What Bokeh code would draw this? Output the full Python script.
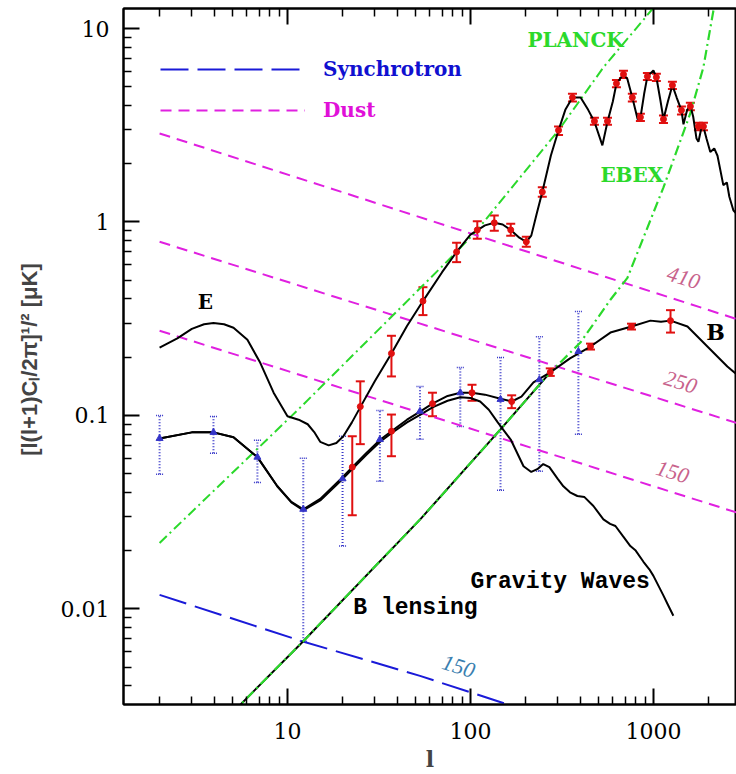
from bokeh.plotting import figure
from bokeh.models import (Whisker, TeeHead, Label, Legend, LegendItem, ColumnDataSource,
                          LogAxis, FixedTicker, CustomJSTickFormatter, Range1d)
from bokeh.embed import file_html
from bokeh.resources import INLINE

# ---------------- data ----------------
# E-mode power spectrum (theory curve)
e_l = [2, 2.5, 3, 3.5, 3.94, 4.5, 5.07, 6.04, 7.1, 8.4, 10, 11.5, 12.9, 14, 15.1, 16.8, 18.5, 20.2,
       22.5, 25.1, 30, 37, 45, 55, 70, 84, 100, 120, 135, 150, 166, 185, 202, 215, 230, 247, 275,
       303, 330, 361, 400, 440, 476, 526, 561, 600, 628, 686, 720, 767, 820, 849, 890, 927, 1000,
       1038, 1090, 1135, 1200, 1270, 1340, 1423, 1460, 1530, 1592, 1650, 1720, 1762, 1820, 1877,
       1950, 2046, 2150, 2240, 2410, 2520, 2600, 2735, 2845]
e_v = [0.224, 0.25, 0.28, 0.296, 0.30, 0.296, 0.284, 0.246, 0.187, 0.131, 0.099, 0.095, 0.090, 0.082,
       0.073, 0.070, 0.072, 0.078, 0.092, 0.111, 0.15, 0.209, 0.29, 0.39, 0.55, 0.70, 0.86, 0.96,
       0.99, 0.97, 0.91, 0.83, 0.79, 0.85, 1.1, 1.43, 2.2, 2.98, 3.8, 4.4, 4.4, 3.8, 3.3, 2.49, 3.3,
       4.2, 5.2, 5.8, 5.5, 4.4, 3.4, 3.45, 4.6, 5.66, 6.07, 5.6, 4.3, 3.4, 4.2, 5.09, 4.4, 3.78, 3.2,
       3.8, 4.0, 3.5, 2.7, 2.6, 3.0, 3.1, 2.7, 2.3, 2.4, 2.2, 1.55, 1.6, 1.35, 1.15, 1.1]

# E-mode simulated band powers (red)
er_l = [25, 37, 55, 84, 109, 135, 166, 202, 247, 303, 361, 476, 561, 628, 686, 767, 849, 927,
        1038, 1135, 1270, 1423, 1592, 1762, 1877]
er_v = [0.111, 0.209, 0.39, 0.70, 0.91, 0.99, 0.91, 0.79, 1.43, 2.98, 4.4, 3.32, 3.32, 5.2, 5.8,
        4.4, 3.48, 5.66, 5.6, 3.4, 5.09, 3.78, 3.96, 3.12, 3.12]
er_lo = [0.071, 0.159, 0.33, 0.62, 0.82, 0.90, 0.85, 0.745, 1.35, 2.82, 4.2, 3.18, 3.18, 4.98, 5.55,
         4.2, 3.33, 5.42, 5.36, 3.25, 4.87, 3.6, 3.78, 2.98, 2.98]
er_hi = [0.15, 0.258, 0.46, 0.78, 1.01, 1.08, 0.98, 0.84, 1.51, 3.12, 4.6, 3.46, 3.46, 5.42, 6.05,
         4.6, 3.63, 5.9, 5.84, 3.55, 5.31, 3.96, 4.14, 3.26, 3.26]

# B-mode total (theory)
b_l = [2, 3, 3.94, 5.07, 6.85, 8.8, 10.5, 12.2, 15.1, 19.5, 22.6, 27, 32.2, 37, 45, 53.3, 62, 75,
       88, 102, 120, 146, 168, 190, 221, 273, 350, 453, 582, 759, 963, 1100, 1240, 1535, 1972,
       2535, 2845]
b_v = [0.076, 0.0817, 0.0817, 0.077, 0.0608, 0.043, 0.0357, 0.0327, 0.037, 0.0468, 0.054, 0.064,
       0.075, 0.0828, 0.095, 0.105, 0.115, 0.126, 0.131, 0.131, 0.128, 0.122, 0.118, 0.125, 0.148,
       0.167, 0.197, 0.227, 0.268, 0.288, 0.309, 0.305, 0.309, 0.288, 0.227, 0.179, 0.163]

# B-mode from gravity waves
gw_l = [2, 3, 3.94, 5.07, 6.85, 8.8, 10.5, 12.2, 15.1, 19.5, 22.6, 27, 32.2, 37, 45, 53.3, 62, 75,
        88, 100, 113, 126, 141, 166, 195, 215, 232, 250, 270, 300, 322, 350, 384, 420, 470, 533,
        580, 620, 680, 748, 800, 882, 950, 1000, 1135, 1200, 1285]
gw_v = [0.076, 0.0817, 0.0817, 0.077, 0.0608, 0.043, 0.0355, 0.0323, 0.0363, 0.0458, 0.0528, 0.0625,
        0.0733, 0.0808, 0.092, 0.101, 0.110, 0.119, 0.124, 0.123, 0.118, 0.107, 0.092, 0.075,
        0.0546, 0.051, 0.0527, 0.056, 0.054, 0.047, 0.043, 0.040, 0.0383, 0.0378, 0.034, 0.029,
        0.0275, 0.0268, 0.0238, 0.0211, 0.0200, 0.0175, 0.0160, 0.0148, 0.0117, 0.0105, 0.0092]

# B-mode simulated band powers (red)
br_l = [22.6, 37, 62, 102, 168, 273, 453, 759, 1240]
br_v = [0.054, 0.0828, 0.115, 0.131, 0.118, 0.167, 0.227, 0.288, 0.309]
br_lo = [0.0305, 0.0615, 0.099, 0.119, 0.109, 0.160, 0.219, 0.278, 0.268]
br_hi = [0.078, 0.101, 0.131, 0.144, 0.127, 0.175, 0.235, 0.298, 0.35]

# B-mode low-resolution band powers (blue, dotted errors)
bb_l = [2, 3.94, 6.85, 12.2, 20, 32, 53, 88, 146, 238, 389]
bb_v = [0.076, 0.0817, 0.0608, 0.0327, 0.047, 0.075, 0.105, 0.131, 0.121, 0.153, 0.214]
bb_lo = [0.0496, 0.0637, 0.045, 0.0068, 0.0211, 0.0457, 0.0752, 0.0877, 0.041, 0.0514, 0.080]
bb_hi = [0.100, 0.0986, 0.0743, 0.060, 0.078, 0.106, 0.141, 0.177, 0.199, 0.255, 0.344]

# B lensing
lens_l = [5.0, 12.2, 53.3, 146, 273]
lens_v = [0.0029, 0.0068, 0.0291, 0.0847, 0.167]

# experiment noise curves
ebex_l = [5.0, 12.2, 53.3, 146, 273, 399, 582, 721, 1135, 1592, 1875, 2128]
ebex_v = [0.0029, 0.0068, 0.0291, 0.0847, 0.167, 0.238, 0.396, 0.514, 1.51, 3.65, 6.3, 12.4]
planck_l = [2, 12, 84, 109, 303, 533, 1000]
planck_v = [0.0219, 0.112, 0.70, 0.91, 2.98, 6.3, 12.8]

# foregrounds
sync_l = [2, 12, 53, 160]
sync_150 = [0.0118, 0.0068, 0.0045, 0.0032]
dust_l = [2, 3000]
dust_410 = [2.87, 0.31]
dust_250 = [0.79, 0.090]
dust_150 = [0.274, 0.031]

x_major = [10, 100, 1000]
x_minor = [m * d for d in (1, 10, 100, 1000) for m in range(2, 10)]
y_major = [0.01, 0.1, 1, 10]
y_minor = [m * d for d in (0.001, 0.01, 0.1, 1) for m in range(2, 10)]

# ---------------- colours ----------------
MAG = "#E020E0"
BLUE = "#1A1AD8"
GREEN = "#2BD92B"
RED = "#E01010"
DBLUE = "#3535C8"
PINK = "#C8628C"

p = figure(width=736, height=774, x_axis_type="log", y_axis_type="log",
           x_range=Range1d(1.27, 2845), y_range=Range1d(0.0032, 12.7),
           output_backend="svg", toolbar_location=None,
           min_border_left=123, min_border_right=0, min_border_top=8, min_border_bottom=68,
           background_fill_color="white", border_fill_color="white")
p.xgrid.visible = False
p.ygrid.visible = False
p.outline_line_color = "black"
p.outline_line_width = 2

bottom_ax = p.below[0]
left_ax = p.left[0]
top_ax = LogAxis()
p.add_layout(top_ax, "above")


def style(ax, major, minor, labels):
    ax.ticker = FixedTicker(ticks=major, minor_ticks=minor)
    ax.axis_line_width = 2
    ax.major_tick_in = 16
    ax.major_tick_out = 0
    ax.minor_tick_in = 8
    ax.minor_tick_out = 0
    ax.major_tick_line_width = 2
    ax.minor_tick_line_width = 1.5
    if labels:
        ax.formatter = CustomJSTickFormatter(code="return tick.toString();")
        ax.major_label_text_font = "DejaVu Serif"
        ax.major_label_text_font_size = "22px"
        ax.major_label_text_color = "black"
    else:
        ax.formatter = CustomJSTickFormatter(code="return '';")
        ax.major_label_text_font_size = "0px"
        ax.major_label_standoff = 0
        ax.axis_label_standoff = 0


style(bottom_ax, x_major, x_minor, True)
style(left_ax, y_major, y_minor, True)
style(top_ax, x_major, x_minor, False)

bottom_ax.major_label_standoff = 18
left_ax.major_label_standoff = 14
bottom_ax.axis_label = "l"
bottom_ax.axis_label_text_font = "DejaVu Serif"
bottom_ax.axis_label_text_font_style = "bold"
bottom_ax.axis_label_text_font_size = "22px"
bottom_ax.axis_label_standoff = 4
left_ax.axis_label = "[l(l+1)C\u2097/2\u03c0]\u00b9/\u00b2  [\u03bcK]"
left_ax.axis_label_text_font = "Liberation Sans"
left_ax.axis_label_text_font_style = "bold"
left_ax.axis_label_text_font_size = "22px"
left_ax.axis_label_standoff = 16

# ---------------- foregrounds ----------------
r_dust = p.line(dust_l, dust_410, line_color=MAG, line_width=2, line_dash="11 7")
p.line(dust_l, dust_250, line_color=MAG, line_width=2, line_dash="11 7")
p.line(dust_l, dust_150, line_color=MAG, line_width=2, line_dash="11 7")
r_sync = p.line(sync_l, sync_150, line_color=BLUE, line_width=2, line_dash="28 9")

# ---------------- noise curves ----------------
p.line(lens_l, lens_v, line_color="black", line_width=2)
p.line(ebex_l, ebex_v, line_color=GREEN, line_width=2.2, line_dash="10 4 2 4")
p.line(planck_l, planck_v, line_color=GREEN, line_width=2, line_dash="10 4 2 4")

# ---------------- theory curves ----------------
p.line(e_l, e_v, line_color="black", line_width=2)
p.line(gw_l, gw_v, line_color="black", line_width=2)
p.line(b_l, b_v, line_color="black", line_width=2)

# ---------------- blue band powers ----------------
src_bb = ColumnDataSource(dict(l=bb_l, v=bb_v, lo=bb_lo, hi=bb_hi))
p.add_layout(Whisker(base="l", upper="hi", lower="lo", source=src_bb,
                     line_color=DBLUE, line_width=2, line_dash="1 2",
                     upper_head=TeeHead(size=7, line_color=DBLUE, line_width=1.5, line_dash="1 1"),
                     lower_head=TeeHead(size=7, line_color=DBLUE, line_width=1.5, line_dash="1 1")))
p.scatter("l", "v", source=src_bb, marker="triangle", size=7, color=DBLUE)

# ---------------- red band powers ----------------
src_er = ColumnDataSource(dict(l=er_l, v=er_v, lo=er_lo, hi=er_hi))
src_br = ColumnDataSource(dict(l=br_l, v=br_v, lo=br_lo, hi=br_hi))
for src in (src_er, src_br):
    p.add_layout(Whisker(base="l", upper="hi", lower="lo", source=src,
                         line_color=RED, line_width=2,
                         upper_head=TeeHead(size=9, line_color=RED, line_width=2),
                         lower_head=TeeHead(size=9, line_color=RED, line_width=2)))
    p.scatter("l", "v", source=src, marker="circle", size=6, color=RED)

# ---------------- legends ----------------
def make_legend(label, rend, loc, color):
    return Legend(items=[LegendItem(label=label, renderers=[rend])], location=loc,
                  glyph_width=145, glyph_height=20, label_height=20, label_standoff=18,
                  padding=0, margin=0, spacing=0, border_line_alpha=0,
                  background_fill_alpha=0, label_text_font="DejaVu Serif",
                  label_text_font_style="bold", label_text_font_size="20px",
                  label_text_color=color)


p.add_layout(make_legend("Synchrotron", r_sync, (37, 623), "#1010D0"))
p.add_layout(make_legend("Dust", r_dust, (37, 582), "#E010D8"))

# ---------------- text labels ----------------
def lab(x, y, t, font, size, color="black", style="bold", align="left", angle=0):
    p.add_layout(Label(x=x, y=y, text=t, text_font=font, text_font_size=size,
                       text_font_style=style, text_color=color, text_align=align,
                       text_baseline="middle", angle=angle, angle_units="deg"))


lab(205, 8.78, "PLANCK", "DejaVu Serif", "20px", GREEN)
lab(513, 1.75, "EBEX", "DejaVu Serif", "20px", GREEN)
lab(3.56, 0.387, "E", "DejaVu Serif", "20px", align="center")
lab(2183, 0.271, "B", "DejaVu Serif", "22px", align="center")
lab(100, 0.0138, "Gravity Waves", "Liberation Mono", "23px")
lab(22.9, 0.0101, "B lensing", "Liberation Mono", "23px")
lab(1459, 0.514, "410", "Liberation Serif", "22px", PINK, "italic", "center", -17)
lab(1406, 0.148, "250", "Liberation Serif", "22px", PINK, "italic", "center", -17)
lab(1271, 0.0508, "150", "Liberation Serif", "22px", PINK, "italic", "center", -17)
lab(86, 0.00502, "150", "Liberation Serif", "22px", "#3A80B0", "italic", "center", -17)

open("out.html", "w").write(file_html(p, INLINE))
